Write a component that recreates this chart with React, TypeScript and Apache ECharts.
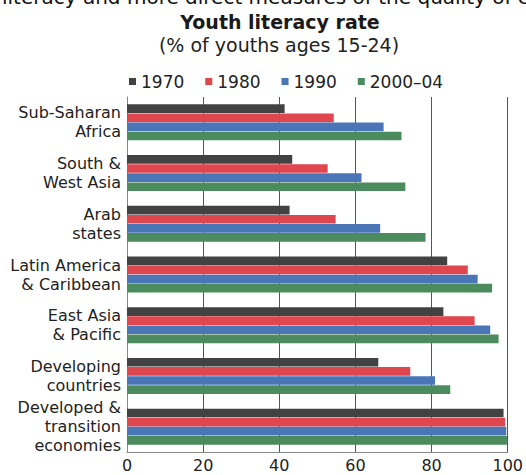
import React, { useEffect, useRef } from "react";
import * as echarts from "echarts";

const categories = [
  "Sub-Saharan\nAfrica",
  "South &\nWest Asia",
  "Arab\nstates",
  "Latin America\n& Caribbean",
  "East Asia\n& Pacific",
  "Developing\ncountries",
  "Developed &\ntransition\neconomies",
];
const seriesNames = ["1970", "1980", "1990", "2000\u201304"];
const v1970 = [41.4, 43.4, 42.7, 84.1, 83.1, 66.0, 98.9];
const v1980 = [54.3, 52.7, 54.8, 89.5, 91.3, 74.4, 99.3];
const v1990 = [67.4, 61.6, 66.5, 92.1, 95.4, 80.9, 99.6];
const v2000 = [72.1, 73.1, 78.4, 95.9, 97.6, 84.9, 99.8];
const colors = ["#424242", "#e0464e", "#4a76b8", "#4b8b5e"];
const xTicks = [0, 20, 40, 60, 80, 100];

export default function App() {
  const ref = useRef<HTMLDivElement>(null);
  useEffect(() => {
    if (!ref.current) return;
    const chart = echarts.init(ref.current, null, { renderer: "svg" });
    const font = "'DejaVu Sans', Verdana, sans-serif";
    const data = [v1970, v1980, v1990, v2000];
    chart.setOption({
      animation: false,
      textStyle: { fontFamily: font },
      title: [
        {
          text: "Youth literacy rate",
          left: 275,
          textAlign: "center",
          top: 7,
          textStyle: { fontSize: 19, fontWeight: "bold", color: "#1a1a1a", fontFamily: font },
        },
        {
          text: "(% of youths ages 15-24)",
          left: 274,
          textAlign: "center",
          top: 30,
          textStyle: { fontSize: 19, fontWeight: "normal", color: "#222", fontFamily: font },
        },
      ],
      graphic: [
        {
          type: "text",
          left: 2,
          top: -13,
          style: {
            text: "literacy and more direct measures of the quality of e",
            fontSize: 20,
            fontFamily: font,
            fill: "#111",
          },
        },
      ],
      legend: {
        top: 68,
        left: 124,
        itemWidth: 7,
        itemHeight: 7,
        itemGap: 21,
        icon: "rect",
        data: seriesNames,
        textStyle: { fontSize: 17, color: "#222", fontFamily: font },
      },
      grid: { left: 127, right: 17, top: 97, bottom: 23, containLabel: false },
      xAxis: {
        type: "value",
        min: 0,
        max: 100,
        interval: 20,
        axisLine: { show: true, lineStyle: { color: "#888", width: 1 } },
        axisTick: { show: false },
        splitLine: { show: true, lineStyle: { color: "#555", width: 1 } },
        axisLabel: {
          fontSize: 16,
          color: "#222",
          margin: 5,
          formatter: (v: number) => (xTicks.includes(v) ? String(v) : ""),
        },
      },
      yAxis: {
        type: "category",
        inverse: true,
        data: categories,
        axisLine: { show: true, lineStyle: { color: "#888", width: 1 } },
        axisTick: { show: false },
        axisLabel: { fontSize: 16, color: "#222", lineHeight: 19, margin: 6, align: "right" },
      },
      series: seriesNames.map((name, i) => ({
        name,
        type: "bar",
        data: data[i],
        barGap: "5%",
        barCategoryGap: "29%",
        itemStyle: { color: colors[i] },
      })),
    });
    return () => chart.dispose();
  }, []);
  return (
    <div
      ref={ref}
      style={{ position: "fixed", left: 0, top: 0, width: 526, height: 475, background: "#fff" }}
    />
  );
}
